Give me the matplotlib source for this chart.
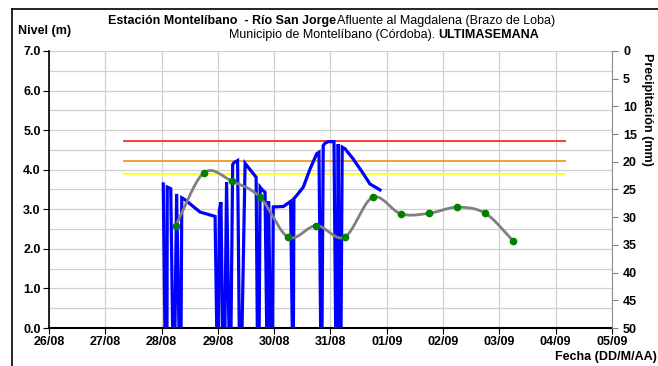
import numpy as np
import matplotlib
matplotlib.use("Agg")
import matplotlib.pyplot as plt
from matplotlib.lines import Line2D

plt.rcParams['font.family'] = ['Liberation Sans', 'DejaVu Sans']

# x axis: days since 26/08 00:00
day_labels = ['26/08', '27/08', '28/08', '29/08', '30/08', '31/08',
              '01/09', '02/09', '03/09', '04/09', '05/09']

# water level (m), time in hours since 28/08 00:00 (zeros = missing data)
level_hours = [0.7, 1.4, 2.3, 2.4, 3.9, 4.7, 5.7, 6.4, 7.4, 8.3, 8.6, 10.0,
               16.4, 22.8, 23.5, 24.3, 24.6, 25.3, 26.0, 27.0, 27.7, 28.7,
               29.6, 30.3, 30.9, 32.4, 33.1, 34.3, 35.6, 36.4, 40.3, 40.8,
               41.6, 42.0, 42.8, 44.1, 44.8, 45.4, 45.6, 46.4, 47.3, 47.6,
               51.9, 55.0, 55.7, 56.2, 56.4, 57.6, 60.4, 63.3, 66.1, 67.1,
               67.8, 68.4, 68.9, 69.7, 71.1, 73.5, 74.2, 74.8, 75.3, 75.8,
               76.5, 77.0, 78.2, 81.7, 86.0, 88.8, 93.1]
level_m = [3.64, 0.0, 0.0, 3.56, 3.52, 0.0, 0.0, 3.39, 0.0, 0.0, 3.29, 3.24,
           2.93, 2.82, 0.0, 0.0, 2.97, 3.18, 0.0, 0.0, 3.69, 0.0,
           0.0, 4.13, 4.18, 4.23, 0.0, 0.0, 4.16, 4.10, 3.81, 0.0,
           0.0, 3.56, 3.50, 3.43, 0.0, 0.0, 3.20, 0.0, 0.0, 3.06,
           3.07, 3.20, 0.0, 0.0, 3.27, 3.35, 3.56, 4.02, 4.40, 4.44,
           0.0, 0.0, 4.61, 4.67, 4.71, 4.71, 0.0, 0.0, 4.65, 0.0,
           0.0, 4.57, 4.53, 4.27, 3.90, 3.64, 3.49]

# precipitation (mm), days since 26/08 00:00
precip_days = [2.25, 2.75, 3.25, 3.75, 4.25, 4.75, 5.25, 5.75, 6.25, 6.75,
               7.25, 7.75, 8.25]
precip_mm = [31.5, 22.0, 23.5, 26.4, 33.6, 31.5, 33.6, 26.4, 29.4, 29.3,
             28.2, 29.3, 34.3]

# alert thresholds (m)
threshold_levels = [4.72, 4.21, 3.89]
threshold_colors = ['#ff3b3b', '#f0a030', '#ffff33']
threshold_span = [1.33, 9.17]


def catmull_rom(x, y, n=20):
    # smooth line like the spreadsheet's "smoothed line"
    x = np.asarray(x, float)
    y = np.asarray(y, float)
    px = np.concatenate([[2 * x[0] - x[1]], x, [2 * x[-1] - x[-2]]])
    py = np.concatenate([[2 * y[0] - y[1]], y, [2 * y[-1] - y[-2]]])
    xs, ys = [], []
    t = np.linspace(0, 1, n, endpoint=False)
    for i in range(1, len(px) - 2):
        for p, out in ((px, xs), (py, ys)):
            p0, p1, p2, p3 = p[i - 1], p[i], p[i + 1], p[i + 2]
            out.extend(0.5 * (2 * p1 + (-p0 + p2) * t
                              + (2 * p0 - 5 * p1 + 4 * p2 - p3) * t ** 2
                              + (-p0 + 3 * p1 - 3 * p2 + p3) * t ** 3))
    xs.append(x[-1])
    ys.append(y[-1])
    return np.array(xs), np.array(ys)


fig = plt.figure(figsize=(6.58, 3.66), dpi=100)
ax = fig.add_axes([0.0745, 0.1038, 0.8555, 0.7569])

ax.set_xlim(0, 10)
ax.set_ylim(0, 7)
ax.set_xticks(range(len(day_labels)))
ax.set_xticklabels(day_labels)
ax.set_yticks(np.arange(0, 7.01, 1.0))
ax.set_yticklabels(['%.1f' % v for v in np.arange(0, 7.01, 1.0)])
ax.set_yticks(np.arange(0, 7.01, 0.5), minor=True)
ax.grid(True, which='both', axis='y', color='#d0d0d0', lw=0.9)
ax.grid(True, which='major', axis='x', color='#d0d0d0', lw=0.9)
ax.set_axisbelow(True)
ax.tick_params(axis='y', which='minor', length=0)
ax.tick_params(axis='both', which='major', direction='out', length=4,
               labelsize=9, pad=2)
for lab in ax.get_xticklabels() + ax.get_yticklabels():
    lab.set_fontweight('bold')
for side in ['top', 'right']:
    ax.spines[side].set_visible(False)
ax.spines['left'].set_linewidth(1.2)
ax.spines['bottom'].set_linewidth(1.5)

# thresholds
for lv, c in zip(threshold_levels, threshold_colors):
    ax.plot(threshold_span, [lv, lv], color=c, lw=1.4, zorder=2)

# level series
lx = 2 + np.array(level_hours) / 24.0
ax.plot(lx, level_m, color='#0000ff', lw=2.3, zorder=3, solid_joinstyle='miter')

# precipitation on inverted right axis
ax2 = ax.twinx()
ax2.set_ylim(50, 0)
ax2.set_yticks(range(0, 51, 5))
ax2.tick_params(axis='y', direction='out', length=4, labelsize=9, pad=4,
                color='#808080')
for lab in ax2.get_yticklabels():
    lab.set_fontweight('bold')
for side in ['top', 'left', 'bottom']:
    ax2.spines[side].set_visible(False)
ax2.spines['right'].set_color('#909090')
sx, sy = catmull_rom(precip_days, precip_mm)
ax2.plot(sx, sy, color='#808080', lw=2.0, zorder=3)
ax2.plot(precip_days, precip_mm, 'o', color='#008000', ms=4.5, zorder=4)

# texts
fig.text(0.510, 0.942, 'Estación Montelíbano  - Río San Jorge', fontsize=9,
         fontweight='bold', ha='right', va='center')
fig.text(0.512, 0.942, 'Afluente al Magdalena (Brazo de Loba)', fontsize=9,
         ha='left', va='center')
fig.text(0.666, 0.904, 'Municipio de Montelíbano (Córdoba). ', fontsize=9,
         ha='right', va='center')
fig.text(0.666, 0.904, 'ULTIMASEMANA', fontsize=9, fontweight='bold',
         ha='left', va='center')
fig.text(0.027, 0.915, 'Nivel (m)', fontsize=9, fontweight='bold',
         ha='left', va='center')
fig.text(0.984, 0.855, 'Precipitación (mm)', fontsize=9, fontweight='bold',
         rotation=-90, ha='center', va='top')
fig.text(0.998, 0.025, 'Fecha (DD/M/AA)', fontsize=9, fontweight='bold',
         ha='right', va='center')

# outer frame (left and top edges visible)
fig.add_artist(Line2D([0.018, 0.018], [0.0, 0.975], color='black', lw=1.2,
                      transform=fig.transFigure))
fig.add_artist(Line2D([0.018, 1.0], [0.975, 0.975], color='black', lw=1.2,
                      transform=fig.transFigure))

fig.savefig('out.png', dpi=100)
